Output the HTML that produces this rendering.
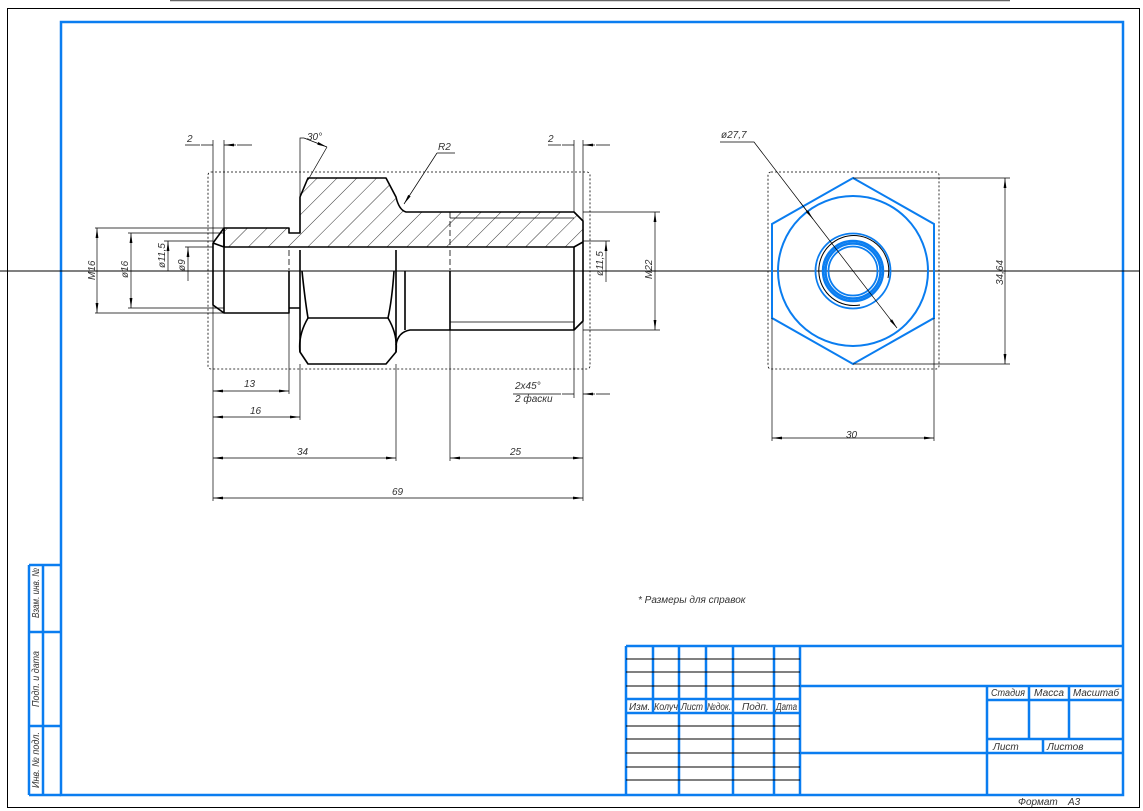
<!DOCTYPE html>
<html><head><meta charset="utf-8"><style>
html,body{margin:0;padding:0;background:#fff;width:1143px;height:811px;overflow:hidden}
svg{display:block}
text{font-family:"Liberation Sans",sans-serif;font-style:italic;fill:#333;font-size:10px}
</style></head><body>
<svg width="1143" height="811" viewBox="0 0 1143 811" xmlns="http://www.w3.org/2000/svg">
<defs>
<marker id="a" viewBox="0 0 10 4" refX="10" refY="2" markerWidth="10" markerHeight="4" markerUnits="userSpaceOnUse" orient="auto-start-reverse"><path d="M0,0.6 L10,2 L0,3.4Z" fill="#000"/></marker>
<pattern id="h" patternUnits="userSpaceOnUse" width="14" height="14" patternTransform="rotate(45)"><line x1="0" y1="0" x2="0" y2="14" stroke="#000" stroke-width="0.8"/></pattern>
<clipPath id="c"><path d="M224,247 L224,228 L289,228 L289,233 L300,233 L300,197 L308,178 L386,178 L396,197 Q399,210 406,212 L574,212 L583,221 L583,242 L574,247 Z"/></clipPath>
</defs>
<line x1="170" y1="0.5" x2="1010" y2="0.5" stroke="#666" stroke-width="1.5"/>
<rect x="7.5" y="8.5" width="1132" height="799" fill="none" stroke="#000" stroke-width="1"/>
<g fill="none" stroke="#0a7df0" stroke-width="2.5">
<rect x="61" y="22" width="1062" height="773"/>
<path d="M29,565 H61 M29,565 V795 M43,565 V795 M29,632 H61 M29,726 H61 M29,795 H61"/>
<path d="M626,646 H1123 M626,646 V795 M800,646 V795 M800,686 H1123 M987,686 V795 M626,699 H800 M626,713 H800 M987,700 H1123 M1029,686 V739 M1069,686 V739 M987,739 H1123 M1043,739 V753 M800,753 H1123"/>
<path d="M653,646 V713 M679,646 V795 M706,646 V713 M733,646 V795 M774,646 V795"/>
</g>
<g stroke="#000" stroke-width="1">
<path d="M626,659 H800 M626,672 H800 M626,686 H800 M626,726 H800 M626,739 H800 M626,753 H800 M626,767 H800 M626,780 H800"/>
</g>
<g font-size="8">
<text x="629" y="710">Изм.</text><text x="654" y="710" textLength="24" lengthAdjust="spacingAndGlyphs">Колуч</text><text x="681" y="710" textLength="22" lengthAdjust="spacingAndGlyphs">Лист</text><text x="707" y="710" textLength="24" lengthAdjust="spacingAndGlyphs">№док.</text><text x="742" y="710">Подп.</text><text x="776" y="710" textLength="21" lengthAdjust="spacingAndGlyphs">Дата</text>
<text x="991" y="696" textLength="34" lengthAdjust="spacingAndGlyphs">Стадия</text><text x="1034" y="696" textLength="30" lengthAdjust="spacingAndGlyphs">Масса</text><text x="1073" y="696" textLength="46" lengthAdjust="spacingAndGlyphs">Масштаб</text>
<text x="993" y="750">Лист</text><text x="1047" y="750">Листов</text>
<text x="1018" y="805">Формат</text><text x="1068" y="805">А3</text>
<text transform="translate(39,618) rotate(-90)" textLength="50" lengthAdjust="spacingAndGlyphs">Взам. инв. №</text>
<text transform="translate(39,707) rotate(-90)" textLength="56" lengthAdjust="spacingAndGlyphs">Подп. и дата</text>
<text transform="translate(39,788) rotate(-90)" textLength="56" lengthAdjust="spacingAndGlyphs">Инв. № подл.</text>
<text x="638" y="603">* Размеры для справок</text>
</g>
<line x1="0" y1="271" x2="1140" y2="271" stroke="#000" stroke-width="1"/>
<g fill="none" stroke="#000" stroke-width="0.8" stroke-dasharray="2,2">
<rect x="208" y="172" width="382" height="197" rx="3"/>
<rect x="768" y="172" width="171" height="197" rx="3"/>
</g>
<rect x="200" y="170" width="400" height="80" fill="url(#h)" clip-path="url(#c)"/>
<rect x="224" y="248" width="350" height="22" fill="#fff"/>
<g fill="none" stroke="#000" stroke-width="1.6" stroke-linejoin="round">
<path d="M224,247 L224,228 L289,228 L289,233 L300,233 L300,197 L308,178 L386,178 L396,197 Q399,210 406,212 L574,212 L583,221 L583,321 L574,330 L410,330 Q398,332 396,345"/>
<path d="M213,243 L224,228 M213,243 L224,247 M213,243 V305 L224,313 H289 V271 M224,228 V313 M289,308 H300"/>
<path d="M224,247 H574 L583,242"/>
<path d="M300,250 V352 L308,364 H386 L396,352 V250"/>
<path d="M302,271 Q305,300 308,318 H388 Q392,300 394,271"/>
<path d="M308,318 Q298,335 300,352 M388,318 Q398,335 396,352"/>
<path d="M405,271 V330 M450,271 V330 M574,247 V330"/>
</g>
<g stroke="#000" stroke-width="0.8" fill="none">
<path d="M450,218 H574 M450,322 H574"/>
<path d="M450,212 V247 M289,250 V270 M450,250 V270" stroke-dasharray="6,3"/>
</g>
<g stroke="#000" stroke-width="0.7" fill="none">
<path d="M213,140 V243 M224,140 V228 M574,140 V212 M583,140 V221 M574,330 V398 M583,321 V398"/>
<path d="M213,305 V501 M289,313 V394 M300,364 V420 M396,364 V461 M450,330 V461 M583,398 V501"/>
<path d="M95,228 H224 M95,313 H224 M128,233 H224 M128,308 H224 M164,241 H213 M185,247 H213 M583,212 H660 M583,330 H660 M583,241 H610"/>
<path d="M185,145 H200 M237,145 H252 M548,145 H561 M596,145 H610 M513,394 H561 M596,394 H610"/>
<path d="M201,145 H213 M236,145 H224" marker-end="url(#a)"/>
<path d="M562,145 H574 M595,145 H583" marker-end="url(#a)"/>
<path d="M562,394 H574 M595,394 H583" marker-end="url(#a)"/>
<path d="M97,228 V313" marker-start="url(#a)" marker-end="url(#a)"/>
<path d="M131,233 V308" marker-start="url(#a)" marker-end="url(#a)"/>
<path d="M168,271 V241" marker-end="url(#a)"/>
<path d="M188,281 V247" marker-end="url(#a)"/>
<path d="M606,282 V241" marker-end="url(#a)"/>
<path d="M655,212 V330" marker-start="url(#a)" marker-end="url(#a)"/>
<path d="M213,391 H289" marker-start="url(#a)" marker-end="url(#a)"/>
<path d="M213,417 H300" marker-start="url(#a)" marker-end="url(#a)"/>
<path d="M213,458 H396" marker-start="url(#a)" marker-end="url(#a)"/>
<path d="M450,458 H583" marker-start="url(#a)" marker-end="url(#a)"/>
<path d="M213,498 H583" marker-start="url(#a)" marker-end="url(#a)"/>
<path d="M300,197 V138 H304"/>
<path d="M304,138 L327,147" marker-end="url(#a)"/>
<path d="M327,147 L308,180"/>
<path d="M455,153 H437"/>
<path d="M437,153 L404,204" marker-end="url(#a)"/>
</g>
<g font-size="9">
<text x="187" y="142">2</text><text x="548" y="142">2</text>
<text x="307" y="140">30°</text><text x="438" y="150">R2</text>
<text transform="translate(95,280) rotate(-90)">M16</text>
<text transform="translate(128,278) rotate(-90)">ø16</text>
<text transform="translate(165,268) rotate(-90)">ø11,5</text>
<text transform="translate(185,271) rotate(-90)">ø9</text>
<text transform="translate(603,276) rotate(-90)">ø11,5</text>
<text transform="translate(652,279) rotate(-90)">M22</text>
<text x="244" y="387">13</text><text x="250" y="414">16</text><text x="297" y="455">34</text><text x="510" y="455">25</text><text x="392" y="495">69</text>
<text x="515" y="389">2x45°</text><text x="515" y="402">2 фаски</text>
</g>
<g fill="none" stroke="#0a7df0">
<polygon points="853,178 934,224 934,318 853,364 772,318 772,224" stroke-width="2"/>
<circle cx="853" cy="271" r="75" stroke-width="2"/>
<circle cx="853" cy="271" r="37.5" stroke-width="1.8"/>
<circle cx="853" cy="271" r="30" stroke-width="2.5"/>
<circle cx="853" cy="271" r="27.5" stroke-width="2.5"/>
<circle cx="853" cy="271" r="24.5" stroke-width="1.8"/>
</g>
<path d="M888,278 A35,35 0 1 0 860,305" fill="none" stroke="#000" stroke-width="1"/>
<g stroke="#000" stroke-width="0.7" fill="none">
<path d="M853,178 H1010 M853,364 H1010 M772,318 V441 M934,318 V441"/>
<path d="M1005,178 V364" marker-start="url(#a)" marker-end="url(#a)"/>
<path d="M772,438 H934" marker-start="url(#a)" marker-end="url(#a)"/>
<path d="M720,142 H754 L813,219"/>
<path d="M800,202 L813,219" marker-end="url(#a)"/>
<path d="M813,219 L897,328" marker-end="url(#a)"/>
</g>
<g font-size="9">
<text x="721" y="138">ø27,7</text>
<text x="846" y="438">30</text>
<text transform="translate(1003,285) rotate(-90)">34,64</text>
</g>
</svg>
</body></html>
